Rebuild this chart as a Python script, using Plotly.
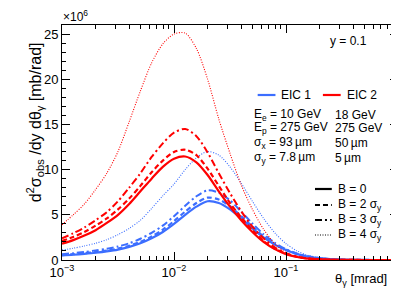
import plotly.graph_objects as go

# log10(theta_gamma / mrad) sample positions
log_theta = [-3.0, -2.9, -2.8, -2.7, -2.6, -2.5, -2.4, -2.3, -2.2, -2.1, -2.0, -1.9, -1.8,
             -1.7, -1.6, -1.5, -1.4, -1.3, -1.2, -1.1, -1.0, -0.9, -0.8, -0.6, -0.4, -0.2, 0.0]
theta = [10 ** e for e in log_theta]

# values in units of 1e6 mb/rad
eic2_b0 = [1.8, 2.2, 2.7, 3.3, 4.1, 5.0, 6.2, 7.6, 9.0, 10.3, 11.2, 11.45, 10.8,
           9.4, 7.6, 5.9, 4.4, 3.1, 2.0, 1.2, 0.65, 0.33, 0.15, 0.03, 0.005, 0.0, 0.0]
eic2_b2 = [2.1, 2.55, 3.1, 3.8, 4.6, 5.6, 6.8, 8.2, 9.7, 11.0, 11.95, 12.2, 11.6,
           10.1, 8.2, 6.3, 4.7, 3.3, 2.1, 1.25, 0.7, 0.35, 0.16, 0.03, 0.005, 0.0, 0.0]
eic2_b3 = [2.4, 2.95, 3.6, 4.4, 5.3, 6.5, 8.0, 9.6, 11.4, 12.9, 14.1, 14.5, 13.7,
           11.9, 9.6, 7.4, 5.4, 3.7, 2.4, 1.4, 0.75, 0.37, 0.17, 0.03, 0.005, 0.0, 0.0]
eic2_b4 = [3.9, 5.0, 6.2, 7.8, 9.6, 12.0, 15.3, 18.7, 21.8, 23.9, 25.0, 25.1, 23.4,
           20.0, 15.6, 11.8, 8.3, 5.6, 3.4, 1.8, 0.8, 0.3, 0.1, 0.01, 0.0, 0.0, 0.0]

eic1_b0 = [0.5, 0.58, 0.68, 0.8, 0.95, 1.15, 1.45, 1.85, 2.4, 3.1, 4.0, 5.0, 5.9,
           6.5, 6.3, 5.6, 4.6, 3.5, 2.5, 1.7, 1.1, 0.65, 0.36, 0.09, 0.02, 0.0, 0.0]
eic1_b2 = [0.55, 0.64, 0.75, 0.88, 1.04, 1.26, 1.58, 2.0, 2.6, 3.35, 4.3, 5.35, 6.3,
           6.9, 6.7, 5.95, 4.85, 3.7, 2.6, 1.75, 1.12, 0.66, 0.37, 0.09, 0.02, 0.0, 0.0]
eic1_b3 = [0.65, 0.76, 0.89, 1.05, 1.24, 1.5, 1.85, 2.35, 3.0, 3.8, 4.85, 6.0, 7.05,
           7.7, 7.45, 6.6, 5.35, 4.05, 2.85, 1.9, 1.2, 0.7, 0.38, 0.09, 0.02, 0.0, 0.0]
eic1_b4 = [1.1, 1.3, 1.55, 1.85, 2.25, 2.8, 3.5, 4.4, 5.7, 7.1, 8.4, 10.0, 11.3,
           12.0, 11.6, 10.3, 8.5, 6.5, 4.6, 3.0, 1.8, 1.0, 0.5, 0.1, 0.02, 0.0, 0.0]

x_tickvals = [1e-3, 1e-2, 1e-1, 1]
x_ticktext = ["10<sup>\u22123</sup>", "10<sup>\u22122</sup>", "10<sup>\u22121</sup>", "1"]
x_minor = [m * d for d in (1e-3, 1e-2, 1e-1) for m in range(2, 10)]
y_tickvals = [0, 5, 10, 15, 20, 25]

BLUE = "rgb(60,110,255)"
RED = "rgb(255,0,0)"
FONT = "Liberation Sans, Arial, sans-serif"

DASH = "5px,3px"
DASHDOT = "7px,3px,2px,3px"
DOT = "1px,1.5px"

series = [
    (eic1_b0, BLUE, "solid", 2.2),
    (eic1_b2, BLUE, DASH, 2.2),
    (eic1_b3, BLUE, DASHDOT, 2.0),
    (eic1_b4, BLUE, DOT, 1.1),
    (eic2_b0, RED, "solid", 2.2),
    (eic2_b2, RED, DASH, 2.2),
    (eic2_b3, RED, DASHDOT, 2.0),
    (eic2_b4, RED, DOT, 1.1),
]

fig = go.Figure()
for vals, col, dash, w in series:
    fig.add_trace(go.Scatter(x=theta, y=vals, mode="lines",
                             line=dict(color=col, dash=dash, width=w, shape="spline", smoothing=0.8),
                             showlegend=False, hoverinfo="skip"))

L, R, T, B = 54, 394, 17, 252
W, H = 399, 288


def px(x):
    return (x - L) / (R - L)


def py(y):
    return (B - y) / (B - T)


annotations = []
shapes = []


def text(x, y, s, size=12, xanchor="left", yanchor="middle", **kw):
    annotations.append(dict(xref="paper", yref="paper", x=px(x), y=py(y), text=s,
                            showarrow=False, xanchor=xanchor, yanchor=yanchor,
                            font=dict(family=FONT, size=size, color="black"), **kw))


def seg(x0, x1, y, col, dash, w):
    shapes.append(dict(type="line", xref="paper", yref="paper", x0=px(x0), x1=px(x1),
                       y0=py(y), y1=py(y), line=dict(color=col, dash=dash, width=w)))


text(365, 33, "y = 0.1", xanchor="right")
seg(252, 270, 87, BLUE, "solid", 2.2)
text(274, 87, "EIC 1")
seg(318, 336, 87, RED, "solid", 2.2)
text(340, 87, "EIC 2")

rows = [
    (107, "E<sub>e</sub> = 10 GeV", "18 GeV"),
    (120, "E<sub>p</sub> = 275 GeV", "275 GeV"),
    (135, "\u03c3<sub>x</sub> = 93\u2009\u00b5m", "50\u2009\u00b5m"),
    (150, "\u03c3<sub>y</sub> = 7.8\u2009\u00b5m", "5\u2009\u00b5m"),
]
for yy, a, b in rows:
    text(246, yy, a)
    text(328, yy, b)

blines = [
    (181, "solid", 2.2, "B = 0"),
    (197, DASH, 2.2, "B = 2 \u03c3<sub>y</sub>"),
    (212, DASHDOT, 2.0, "B = 3 \u03c3<sub>y</sub>"),
    (227, DOT, 1.1, "B = 4 \u03c3<sub>y</sub>"),
]
for yy, dash, w, lab in blines:
    seg(310, 327, yy, "black", dash, w)
    text(331, yy, lab)

text(53, 18, "\u00d710<sup>6</sup>", size=12, yanchor="bottom")
text(385, 271, "\u03b8<sub>\u03b3</sub> [mrad]", size=13, xanchor="right")
annotations.append(dict(xref="paper", yref="paper", x=px(27), y=py(114),
                        text="d<sup>2</sup>\u03c3<sub>obs</sub> /dy d\u03b8<sub>\u03b3</sub> [mb/rad]",
                        showarrow=False, textangle=-90, xanchor="center", yanchor="middle",
                        font=dict(family=FONT, size=16, color="black")))

fig.update_layout(
    width=W, height=H,
    margin=dict(l=L, r=W - R, t=T, b=H - B),
    paper_bgcolor="white", plot_bgcolor="white",
    font=dict(family=FONT, size=13, color="black"),
    annotations=annotations, shapes=shapes,
    xaxis=dict(type="log", range=[-3, 0], tickmode="array", tickvals=x_tickvals,
               ticktext=x_ticktext, ticks="inside", ticklen=8, tickcolor="black",
               showline=True, linecolor="black", linewidth=1, mirror="allticks",
               showgrid=False, zeroline=False,
               minor=dict(tickmode="array", tickvals=x_minor, ticks="inside", ticklen=4,
                          tickcolor="black", showgrid=False)),
    yaxis=dict(range=[0, 26], tickmode="array", tickvals=y_tickvals, ticks="inside",
               ticklen=8, tickcolor="black", showline=True, linecolor="black", linewidth=1,
               mirror="allticks", showgrid=False, zeroline=False,
               minor=dict(dtick=1, ticks="inside", ticklen=4, tickcolor="black", showgrid=False)),
)

fig.write_html("out.html")
